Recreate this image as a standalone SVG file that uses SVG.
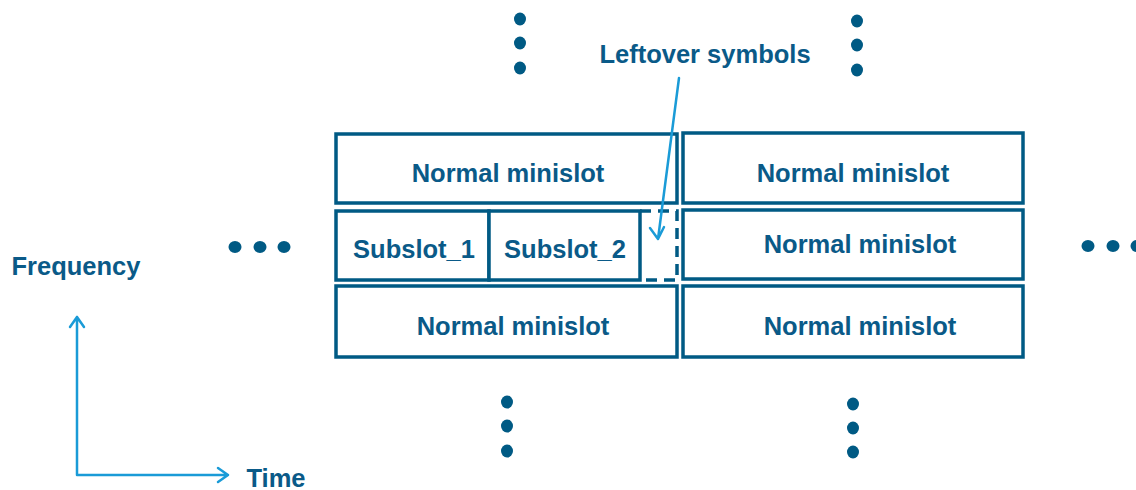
<svg xmlns="http://www.w3.org/2000/svg" width="1136" height="490" viewBox="0 0 1136 490">
<style>
.box{fill:#fff;stroke:#005a84;stroke-width:3.5}
.dash{fill:none;stroke:#005a84;stroke-width:3.5;stroke-dasharray:11 7}
.t{font-family:"Liberation Sans",Arial,sans-serif;font-weight:bold;font-size:25.5px;fill:#0a5a88;text-anchor:middle}
.dot{fill:#005a84}
.ax{fill:none;stroke:#1a9bd7;stroke-width:2.5;stroke-linecap:round;stroke-linejoin:round}
</style>
<rect width="1136" height="490" fill="#fff"/>
<g id="dots">
<ellipse class="dot" cx="520" cy="19" rx="6" ry="6.5"/>
<ellipse class="dot" cx="520" cy="43" rx="6" ry="6.5"/>
<ellipse class="dot" cx="520" cy="68" rx="6" ry="6.5"/>
<ellipse class="dot" cx="857" cy="21" rx="6" ry="6.5"/>
<ellipse class="dot" cx="857" cy="45" rx="6" ry="6.5"/>
<ellipse class="dot" cx="857" cy="70" rx="6" ry="6.5"/>
<ellipse class="dot" cx="507" cy="402" rx="6" ry="6.5"/>
<ellipse class="dot" cx="507" cy="426" rx="6" ry="6.5"/>
<ellipse class="dot" cx="507" cy="451" rx="6" ry="6.5"/>
<ellipse class="dot" cx="853" cy="404" rx="6" ry="6.5"/>
<ellipse class="dot" cx="853" cy="428" rx="6" ry="6.5"/>
<ellipse class="dot" cx="853" cy="452" rx="6" ry="6.5"/>
<ellipse class="dot" cx="235" cy="247" rx="6.5" ry="6"/>
<ellipse class="dot" cx="260" cy="247" rx="6.5" ry="6"/>
<ellipse class="dot" cx="284" cy="247" rx="6.5" ry="6"/>
<ellipse class="dot" cx="1088" cy="246" rx="6.5" ry="6"/>
<ellipse class="dot" cx="1113" cy="246" rx="6.5" ry="6"/>
<ellipse class="dot" cx="1137" cy="246" rx="6.5" ry="6"/>
</g>
<g id="n1"><rect class="box" x="336" y="134" width="341" height="69"/><text class="t" x="508" y="182">Normal minislot</text></g>
<g id="n2"><rect class="box" x="683" y="133" width="340" height="70"/><text class="t" x="853" y="182">Normal minislot</text></g>
<g id="n3"><rect class="box" x="336" y="211" width="153" height="69"/><text class="t" x="414" y="258">Subslot_1</text></g>
<g id="n4"><rect class="box" x="489" y="211" width="151" height="69"/><text class="t" x="565" y="258">Subslot_2</text></g>
<g id="n5"><path class="dash" d="M640,211 H677 V280 H640"/></g>
<g id="n6"><rect class="box" x="683" y="210" width="340" height="69"/><text class="t" x="860" y="253">Normal minislot</text></g>
<g id="n7"><rect class="box" x="336" y="286" width="341" height="71"/><text class="t" x="513" y="335">Normal minislot</text></g>
<g id="n8"><rect class="box" x="683" y="286" width="340" height="71"/><text class="t" x="860" y="335">Normal minislot</text></g>
<g id="labels">
<text class="t" x="705" y="63">Leftover symbols</text>
<text class="t" x="76" y="275">Frequency</text>
<text class="t" x="276" y="487">Time</text>
</g>
<g id="connectors">
<path class="ax" d="M679,78 L658,239 M650,228 L658,239 L664,227"/>
<path class="ax" d="M77,317 V475 H228 M70,327 L77,317 L84,327 M218,468 L228,475 L218,482"/>
</g>
</svg>
